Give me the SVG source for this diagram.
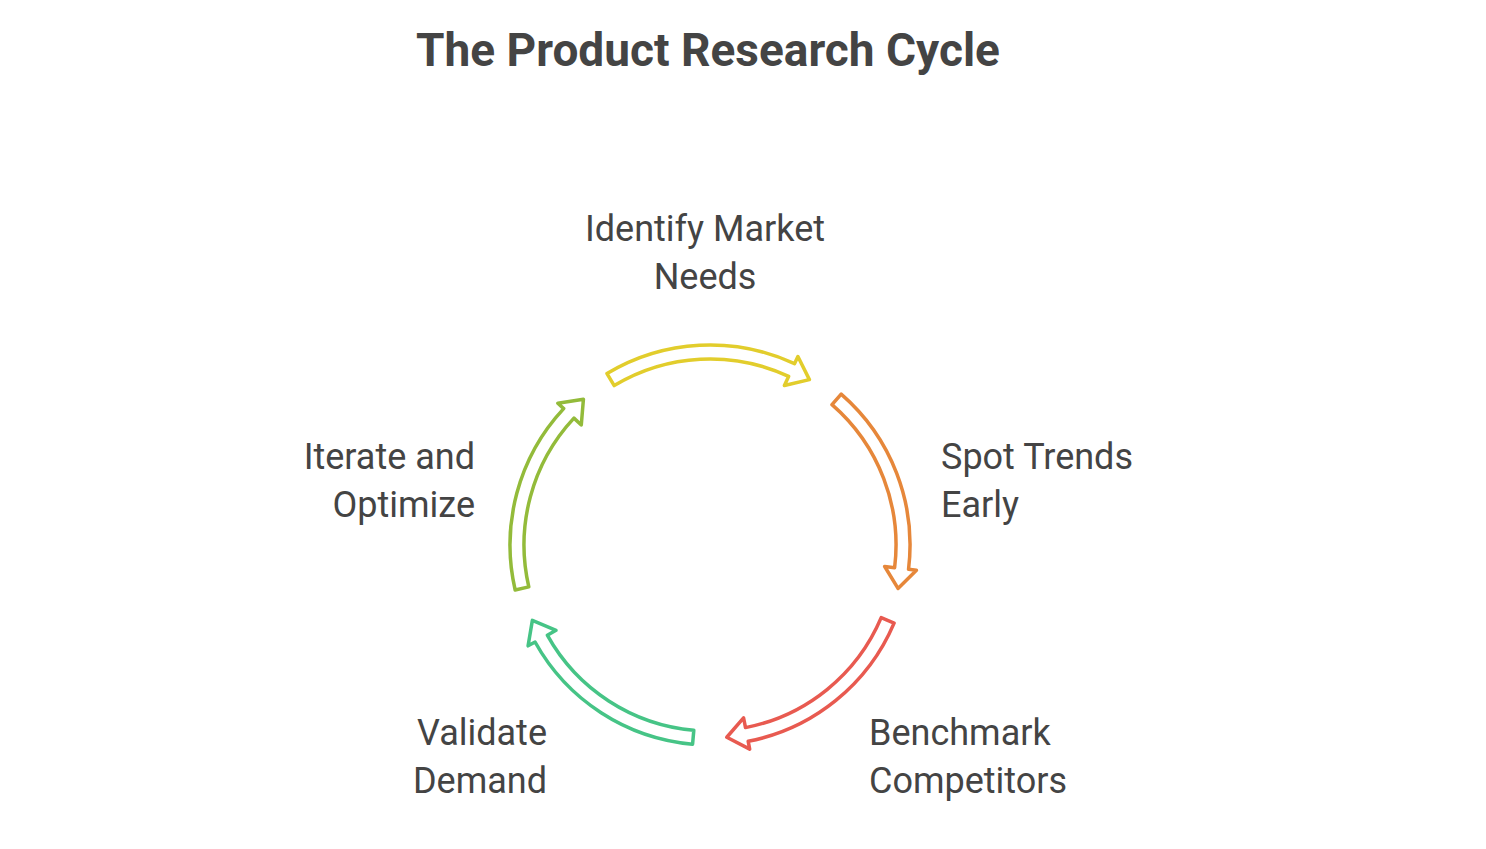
<svg xmlns="http://www.w3.org/2000/svg" width="1486" height="849" viewBox="0 0 1486 849">
<style>
.t{font-family:Roboto,"Liberation Sans",sans-serif;font-size:36px;fill:#444}
.h{font-family:Roboto,"Liberation Sans",sans-serif;font-size:46px;font-weight:bold;fill:#444}
.a{fill:#fff;stroke-width:3.5;stroke-linejoin:round}
</style>
<defs>
<path id="arr" d="M -95.8,-159.4 L -103,-171.4 A 200 200 0 0 1 84.5,-181.3 L 87.9,-188.5 L 99.4,-165.4 L 74.4,-159.5 L 78.6,-168.6 A 186 186 0 0 0 -95.8,-159.4 Z"/>
</defs>
<rect width="1486" height="849" fill="#fff"/>
<text class="h" x="708" y="66" text-anchor="middle">The Product Research Cycle</text>
<g id="connectors" transform="translate(710,545)">
<use href="#arr" class="a" stroke="#e2cd2c"/>
<use href="#arr" class="a" stroke="#e6873a" transform="rotate(72)"/>
<use href="#arr" class="a" stroke="#e85a50" transform="rotate(144)"/>
<use href="#arr" class="a" stroke="#46c486" transform="rotate(216)"/>
<use href="#arr" class="a" stroke="#93bb3a" transform="rotate(288)"/>
</g>
<g id="n1"><text class="t" x="705" y="241" text-anchor="middle">Identify Market</text><text class="t" x="705" y="289" text-anchor="middle">Needs</text></g>
<g id="n2"><text class="t" x="941" y="469">Spot Trends</text><text class="t" x="941" y="517">Early</text></g>
<g id="n3"><text class="t" x="869" y="745">Benchmark</text><text class="t" x="869" y="793">Competitors</text></g>
<g id="n4"><text class="t" x="547" y="745" text-anchor="end">Validate</text><text class="t" x="547" y="793" text-anchor="end">Demand</text></g>
<g id="n5"><text class="t" x="475" y="469" text-anchor="end">Iterate and</text><text class="t" x="475" y="517" text-anchor="end">Optimize</text></g>
</svg>
